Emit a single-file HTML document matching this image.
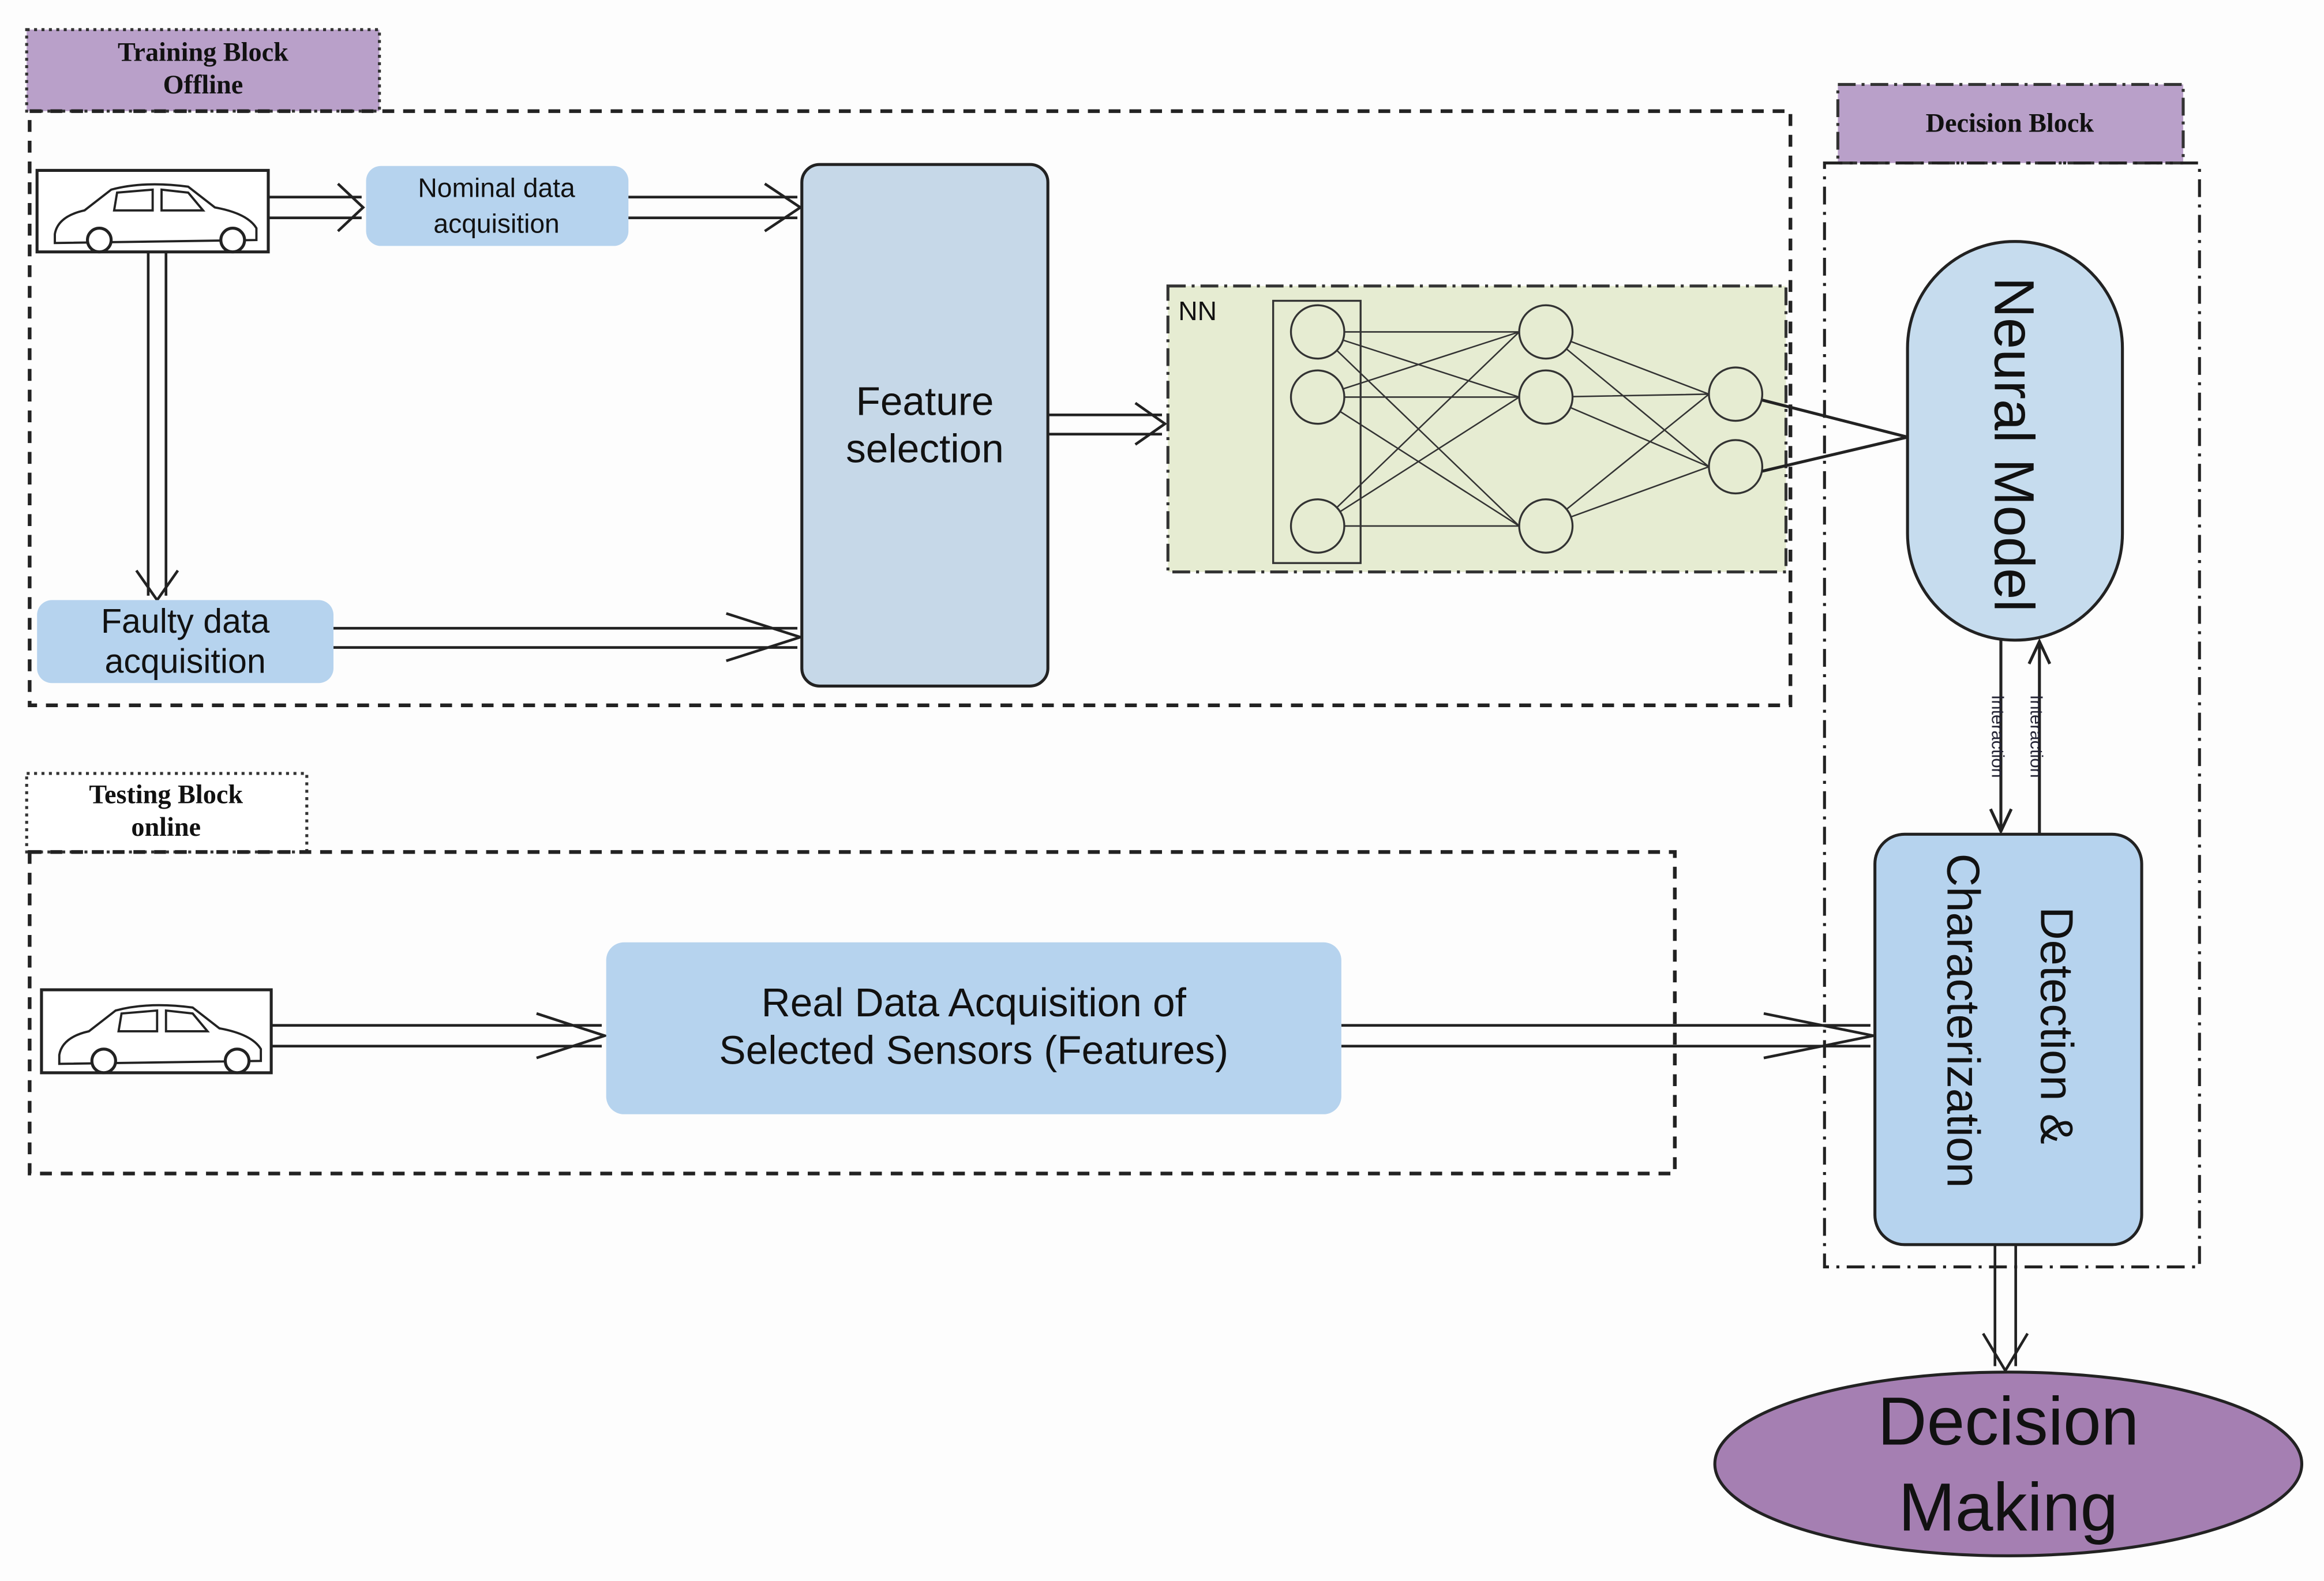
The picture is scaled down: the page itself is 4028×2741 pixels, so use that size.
<!DOCTYPE html>
<html><head><meta charset="utf-8"><style>
html,body{margin:0;padding:0;background:#fdfdfd;}
svg{display:block;}
text{font-family:"Liberation Sans",sans-serif;fill:#111;}
.ser{font-family:"Liberation Serif",serif;font-weight:bold;}
</style></head><body>
<svg width="4028" height="2741" viewBox="0 0 1568 1067" xmlns="http://www.w3.org/2000/svg">
<defs>
<g id="car">
<path d="M10 40 Q12 28 30 24 L48 10 Q70 4 100 8 L118 22 Q140 26 146 36 L146 44 L10 46 Z" fill="#fff" stroke="#222" stroke-width="1.5"/>
<path d="M52 12 L50 24 L76 24 L76 10 Z M82 10 L82 24 L110 24 L100 12 Z" fill="#fff" stroke="#222" stroke-width="1.5"/>
<circle cx="40" cy="44" r="8" fill="#fff" stroke="#222" stroke-width="2"/>
<circle cx="130" cy="44" r="8" fill="#fff" stroke="#222" stroke-width="2"/>
</g>
</defs>
<rect width="1568" height="1067" fill="#fdfdfd"/>

<rect x="18" y="20" width="238" height="55" fill="#b9a0c9" stroke="#333" stroke-width="2" stroke-dasharray="2,3"/>
<text class="ser" x="137" y="41" font-size="18" text-anchor="middle">Training Block</text>
<text class="ser" x="137" y="63" font-size="18" text-anchor="middle">Offline</text>
<rect x="20" y="75" width="1188" height="401" fill="none" stroke="#222" stroke-width="2.5" stroke-dasharray="8,6"/>

<rect x="25" y="115" width="156" height="55" fill="#fff" stroke="#222" stroke-width="2"/>
<use href="#car" x="27" y="118"/>

<rect x="247" y="112" width="177" height="54" rx="10" fill="#b6d3ee"/>
<text x="335" y="133" font-size="18" text-anchor="middle">Nominal data</text>
<text x="335" y="157" font-size="18" text-anchor="middle">acquisition</text>

<g fill="none" stroke="#222" stroke-width="1.8">
<path d="M181 133 H244 M181 147 H244 M228 124 L245 140 L228 156"/>
<path d="M424 133 H538 M424 147 H538 M516 124 L540 140 L516 156"/>
<path d="M100 170 V402 M112 170 V402 M92 385 L106 405 L120 385"/>
<path d="M225 424 H538 M225 437 H538 M490 414 L540 430 L490 446"/>
<path d="M707 280 H784 M707 293 H784 M766 272 L786 286 L766 300"/>
<path d="M183 692 H406 M183 706 H406 M362 684 L408 699 L362 714"/>
<path d="M905 692 H1262 M905 706 H1262 M1190 684 L1264 699 L1190 714"/>
<path d="M1346 840 V922 M1360 840 V922 M1338 900 L1353 925 L1368 900"/>
</g>

<rect x="541" y="111" width="166" height="352" rx="12" fill="#c6d8e8" stroke="#222" stroke-width="2"/>
<text x="624" y="280" font-size="27" text-anchor="middle">Feature</text>
<text x="624" y="312" font-size="27" text-anchor="middle">selection</text>

<rect x="25" y="405" width="200" height="56" rx="10" fill="#b6d3ee"/>
<text x="125" y="427" font-size="23" text-anchor="middle">Faulty data</text>
<text x="125" y="454" font-size="23" text-anchor="middle">acquisition</text>

<rect x="788" y="193" width="417" height="193" fill="#e6ecd2" stroke="#333" stroke-width="2" stroke-dasharray="12,4,2,4"/>
<text x="795" y="216" font-size="18">NN</text>
<rect x="859" y="203" width="59" height="177" fill="none" stroke="#333" stroke-width="1.3"/>
<g stroke="#333" stroke-width="1" fill="none">
<path d="M889 224 L1025 224 M889 224 L1025 268 M889 224 L1025 355 M889 268 L1025 224 M889 268 L1025 268 M889 268 L1025 355 M889 355 L1025 224 M889 355 L1025 268 M889 355 L1025 355"/>
<path d="M1043 224 L1153 266 M1043 224 L1153 315 M1043 268 L1153 266 M1043 268 L1153 315 M1043 355 L1153 266 M1043 355 L1153 315"/>
</g>
<g fill="#e6ecd2" stroke="#333" stroke-width="1.3">
<circle cx="889" cy="224" r="18"/><circle cx="889" cy="268" r="18"/><circle cx="889" cy="355" r="18"/>
<circle cx="1043" cy="224" r="18"/><circle cx="1043" cy="268" r="18"/><circle cx="1043" cy="355" r="18"/>
<circle cx="1171" cy="266" r="18"/><circle cx="1171" cy="315" r="18"/>
</g>
<path d="M1189 270 L1287 295 L1189 318" fill="none" stroke="#222" stroke-width="2"/>

<rect x="1240" y="57" width="233" height="53" fill="#b9a0c9" stroke="#333" stroke-width="2" stroke-dasharray="12,4,2,4"/>
<text class="ser" x="1356" y="89" font-size="18" text-anchor="middle">Decision  Block</text>
<rect x="1231" y="110" width="253" height="745" fill="none" stroke="#222" stroke-width="2" stroke-dasharray="12,5,2,5"/>

<rect x="1287" y="163" width="145" height="269" rx="72" fill="#c6dcee" stroke="#222" stroke-width="2"/>
<text transform="translate(1346,300) rotate(90)" font-size="38" text-anchor="middle">Neural Model</text>

<g fill="none" stroke="#222" stroke-width="2">
<path d="M1350 432 V560 M1343 546 L1350 561 L1357 546"/>
<path d="M1376 563 V434 M1369 448 L1376 433 L1383 448"/>
</g>
<text transform="translate(1344,497) rotate(90)" font-size="12" text-anchor="middle" style="fill:#223">Interaction</text>
<text transform="translate(1370,497) rotate(90)" font-size="12" text-anchor="middle" style="fill:#223">Interaction</text>

<rect x="1265" y="563" width="180" height="277" rx="20" fill="#b6d3ee" stroke="#222" stroke-width="2"/>
<text transform="translate(1377,612) rotate(90)" font-size="31">Detection &amp;</text>
<text transform="translate(1314,576) rotate(90)" font-size="31">Characterization</text>

<rect x="18" y="522" width="189" height="53" fill="#fff" stroke="#333" stroke-width="2" stroke-dasharray="2,3"/>
<text class="ser" x="112" y="542" font-size="18" text-anchor="middle">Testing Block</text>
<text class="ser" x="112" y="564" font-size="18" text-anchor="middle">online</text>
<rect x="20" y="575" width="1110" height="217" fill="none" stroke="#222" stroke-width="2.5" stroke-dasharray="8,6"/>

<rect x="28" y="668" width="155" height="56" fill="#fff" stroke="#222" stroke-width="2"/>
<use href="#car" x="30" y="672"/>

<rect x="409" y="636" width="496" height="116" rx="12" fill="#b6d3ee"/>
<text x="657" y="686" font-size="27" text-anchor="middle">Real Data Acquisition of</text>
<text x="657" y="718" font-size="27" text-anchor="middle">Selected Sensors (Features)</text>

<ellipse cx="1355" cy="988" rx="198" ry="62" fill="#a57fb2" stroke="#222" stroke-width="2"/>
<text x="1355" y="975" font-size="46" text-anchor="middle">Decision</text>
<text x="1355" y="1033" font-size="46" text-anchor="middle">Making</text>
</svg>
</body></html>
